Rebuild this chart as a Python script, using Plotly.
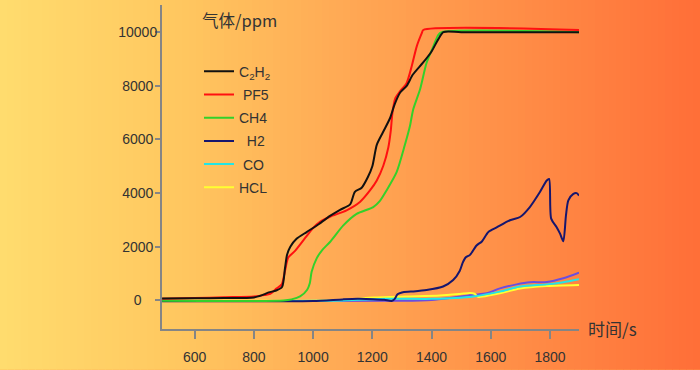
import plotly.graph_objects as go

# ---------------- data ----------------
c2h2_x = [490, 600, 700, 800, 828, 850, 875, 895, 905, 912, 923, 944, 978, 1020, 1057, 1091, 1125, 1141,
          1164, 1185, 1200, 1215, 1235, 1260, 1275, 1294, 1316, 1337, 1371, 1400, 1422, 1440, 1500, 1898]
c2h2_y = [70, 80, 90, 110, 200, 300, 370, 500, 1200, 1700, 2000, 2300, 2550, 2850, 3150, 3380, 3580, 4050,
          4200, 4600, 5000, 5800, 6250, 6800, 7300, 7750, 8000, 8420, 8860, 9280, 9720, 10000, 10000, 10000]

pf5_x = [490, 600, 700, 800, 835, 855, 877, 894, 905, 916, 939, 978, 1000, 1023, 1057, 1113, 1158, 1192,
         1215, 1237, 1254, 1262, 1268, 1278, 1294, 1316, 1333, 1350, 1367, 1372, 1898]
pf5_y = [60, 90, 120, 150, 200, 250, 450, 600, 1100, 1600, 1850, 2400, 2700, 2930, 3120, 3360, 3670, 4100,
         4470, 5020, 5700, 6300, 7000, 7550, 7800, 8110, 8730, 9470, 9960, 10080, 10080]

ch4_x = [490, 900, 927, 956, 980, 989, 995, 1012, 1030, 1057, 1102, 1147, 1203, 1225, 1248, 1282, 1310,
         1327, 1338, 1361, 1383, 1406, 1423, 1434, 1898]
ch4_y = [-10, 0, 40, 150, 400, 650, 1070, 1570, 1870, 2180, 2800, 3230, 3480, 3700, 4100, 4780, 5800,
         6500, 7120, 7860, 8850, 9470, 9900, 10000, 10000]

h2_x = [490, 800, 1000, 1100, 1150, 1203, 1240, 1265, 1275, 1285, 1300, 1330, 1383, 1439, 1473, 1495, 1505,
        1515, 1530, 1552, 1570, 1592, 1620, 1665, 1699, 1732, 1766, 1789, 1797, 1804, 1822, 1834, 1845,
        1854, 1862, 1879, 1890, 1898]
h2_y = [-30, -30, -20, 40, 60, 50, 30, -20, 50, 230, 300, 330, 390, 520, 760, 1100, 1400,
        1600, 1700, 2050, 2200, 2550, 2720, 2990, 3110, 3480, 4040, 4470, 4530, 3050, 2740, 2490, 2210,
        3170, 3730, 3970, 4000, 3910]

blue_x = [490, 1300, 1400, 1473, 1541, 1586, 1631, 1687, 1732, 1789, 1845, 1898]
blue_y = [-20, -10, 20, 110, 210, 270, 450, 600, 680, 690, 830, 1040]

co_x = [490, 1100, 1250, 1400, 1480, 1541, 1631, 1699, 1789, 1845, 1898]
co_y = [-20, 0, 60, 60, 90, 150, 330, 520, 600, 680, 790]

hcl_x = [490, 1100, 1203, 1316, 1428, 1496, 1530, 1545, 1558, 1600, 1631, 1699, 1789, 1898]
hcl_y = [-10, 20, 110, 150, 185, 245, 280, 250, 130, 200, 270, 450, 540, 580]

x_ticks = [600, 800, 1000, 1200, 1400, 1600, 1800]
y_ticks = [0, 2000, 4000, 6000, 8000, 10000]

series = [
    ("C<sub>2</sub>H<sub>2</sub>", c2h2_x, c2h2_y, "#111111"),
    ("\u00a0PF5", pf5_x, pf5_y, "#ff1010"),
    ("CH4", ch4_x, ch4_y, "#33d12a"),
    ("\u00a0\u00a0H2", h2_x, h2_y, "#16166e"),
    ("\u00a0CO", co_x, co_y, "#22e6e6"),
    ("HCL", hcl_x, hcl_y, "#ffff30"),
]

FONT = "Liberation Sans, Arial, Noto Sans CJK SC, sans-serif"
CJK = "Noto Sans CJK SC, Liberation Sans, sans-serif"

fig = go.Figure()

# unlabeled purple-blue series (drawn first, beneath)
fig.add_trace(go.Scatter(x=blue_x, y=blue_y, mode="lines", showlegend=False,
                         line=dict(color="#6a4ee0", width=2, shape="spline", smoothing=0.8),
                         hoverinfo="skip"))
for i in [5, 4, 3, 2, 1, 0]:
    name, xs, ys, col = series[i]
    fig.add_trace(go.Scatter(x=xs, y=ys, mode="lines", name=name, legendgroup=f"g{i}",
                             legendrank=i + 1,
                             line=dict(color=col, width=2, shape="spline", smoothing=0.7)))

# background gradient (horizontal)
stops = [(0.0, (255, 220, 110)), (0.25, (255, 200, 96)), (0.5, (255, 168, 84)),
         (0.75, (255, 140, 70)), (1.0, (255, 110, 56))]

def col_at(t):
    for (t0, c0), (t1, c1) in zip(stops[:-1], stops[1:]):
        if t <= t1:
            f = (t - t0) / (t1 - t0)
            return tuple(round(a + (b - a) * f) for a, b in zip(c0, c1))
    return stops[-1][1]

W, H = 700, 370
L, R, T, B = 162, 121, 5, 39
pw, ph = W - L - R, H - T - B
shapes = []
N = 100
for k in range(N):
    px0 = W * k / N
    px1 = W * (k + 1) / N + 0.6
    c = col_at((k + 0.5) / N)
    shapes.append(dict(type="rect", xref="paper", yref="paper",
                       x0=(px0 - L) / pw, x1=(px1 - L) / pw,
                       y0=-(B + 2) / ph, y1=(H - B + 2) / ph,
                       fillcolor=f"rgb{c}", line=dict(width=0), layer="below"))

ytext = [str(v) + "\u00a0" * (5 - len(str(v))) for v in y_ticks]

fig.update_layout(
    width=W, height=H,
    margin=dict(l=L, r=R, t=T, b=B),
    paper_bgcolor="rgba(0,0,0,0)", plot_bgcolor="rgba(0,0,0,0)",
    shapes=shapes,
    font=dict(family=FONT, size=14, color="#333333"),
    showlegend=True,
    legend=dict(x=(199 - L) / pw, y=(H - B - 56) / ph, xanchor="left", yanchor="top",
                bgcolor="rgba(0,0,0,0)", font=dict(size=14, color="#333333", family=FONT),
                tracegroupgap=2.0, itemwidth=30, traceorder="grouped"),
    xaxis=dict(range=[489.6, 1898], tickvals=x_ticks, showgrid=False, zeroline=False,
               showline=True, linecolor="#858585", linewidth=2,
               ticks="outside", ticklen=8, tickwidth=2, tickcolor="#858585",
               ticklabelstandoff=6, tickfont=dict(size=14, color="#333333")),
    yaxis=dict(range=[-1063, 11011], tickvals=y_ticks, ticktext=ytext, showgrid=False, zeroline=False,
               showline=True, linecolor="#858585", linewidth=2,
               ticks="outside", ticklen=5, tickwidth=2, tickcolor="#858585",
               ticklabelstandoff=-5, tickfont=dict(size=14, color="#333333")),
    annotations=[
        dict(text="气体/ppm", xref="paper", yref="paper", x=(200 - L) / pw, y=(H - B - 20) / ph,
             xanchor="left", yanchor="middle", showarrow=False,
             font=dict(family=CJK, size=16.5, color="#333333")),
        dict(text="时间/s", xref="paper", yref="paper", x=(586 - L) / pw, y=(H - B - 330) / ph,
             xanchor="left", yanchor="middle", showarrow=False,
             font=dict(family=CJK, size=17, color="#333333")),
    ],
)

fig.write_html("out.html", config={"displayModeBar": False},
               post_script="document.body.style.margin='0';document.body.style.overflow='hidden';"
                           "document.body.style.background='rgb(255,170,85)';")
